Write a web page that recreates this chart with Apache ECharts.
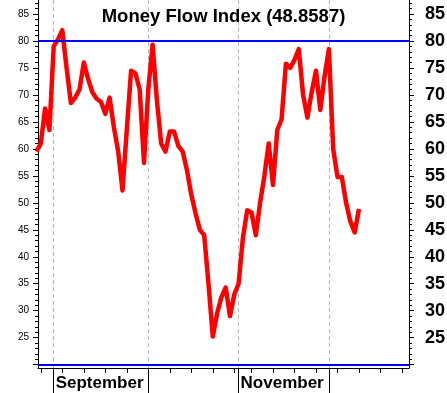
<!DOCTYPE html>
<html>
<head>
<meta charset="utf-8">
<script src="https://cdn.jsdelivr.net/npm/echarts@6/dist/echarts.min.js"></script>
<style>
html,body{margin:0;padding:0;background:#fff;}
#chart{width:447px;height:393px;}
</style>
</head>
<body>
<div id="chart"></div>
<script>
// Money Flow Index, one value per trading day (index 0 = first day shown)
const mfiValues = [
  59.5, 61, 67.5, 63.5, 79, 80.3, 82, 75, 68.5, 69.5,
  71, 76, 73, 70.5, 69.3, 68.7, 66.5, 69.5, 64, 59.5,
  52.3, 63.5, 74.5, 74, 71, 57.4, 71, 79.3, 69, 61,
  59.5, 63.2, 63.2, 60.5, 59.5, 56, 51.5, 48, 45, 44,
  35, 25.2, 29.5, 32.5, 34.3, 29, 33, 35, 43.5, 48.6,
  48.2, 44, 50, 55, 61, 53.3, 63.5, 65.5, 75.8, 75,
  76.5, 78.5, 70, 65.8, 70.5, 74.5, 67.2, 73.5, 78.5, 60,
  54.8, 54.8, 50, 46.5, 44.5, 48.8587
];
const lastValue = 48.8587;
// trading-day indices of week starts and month starts
const weekTicks = [1, 6, 11, 16, 21, 26, 31, 36, 41, 46, 50, 55, 60, 65, 70, 75, 80, 85];
const monthStarts = [4, 26, 47, 68];
const monthLabels = ['September', '', 'November', ''];
// y axis ticks / labels
const yLabelValues = [25, 30, 35, 40, 45, 50, 55, 60, 65, 70, 75, 80, 85];
const yMajorTicks = [20, 25, 30, 35, 40, 45, 50, 55, 60, 65, 70, 75, 80, 85];
const yMinorTicks = [];
for (let v = 20; v <= 87; v++) yMinorTicks.push(v);
const levels = [80, 20];

const xMin = 0.35, xMax = 86.63;
const yMin = 19.38, yMax = 87.6;

const seriesData = mfiValues.map((v, i) => [i, v]);
const FONT = 'Liberation Sans, Arial, Helvetica, sans-serif';

const chart = echarts.init(document.getElementById('chart'), null, {renderer: 'canvas'});
chart.setOption({
  animation: false,
  backgroundColor: '#ffffff',
  title: {
    text: 'Money Flow Index (' + lastValue + ')',
    left: 'center',
    top: 2,
    textStyle: {fontSize: 18.5, fontWeight: 'bold', color: '#000', fontFamily: FONT}
  },
  grid: {left: 38, right: 38, top: 0, bottom: 25, containLabel: false, outerBoundsMode: 'none'},
  xAxis: [
    {
      type: 'value', position: 'bottom', min: xMin, max: xMax,
      axisLine: {show: true, onZero: false, lineStyle: {color: '#000', width: 1}},
      axisTick: {show: true, customValues: weekTicks, length: 5, lineStyle: {color: '#000', width: 1}},
      axisLabel: {show: false},
      splitLine: {show: false}
    },
    {
      type: 'value', position: 'bottom', min: xMin, max: xMax,
      axisLine: {show: false, onZero: false},
      axisTick: {show: true, customValues: monthStarts, length: 25, lineStyle: {color: '#000', width: 1}},
      axisLabel: {
        show: true, customValues: monthStarts,
        formatter: (v) => monthLabels[monthStarts.indexOf(v)] || '',
        align: 'left', margin: 7, padding: [0, 0, 0, 2],
        fontSize: 17, fontWeight: 'bold', color: '#000', fontFamily: FONT
      },
      splitLine: {show: true, lineStyle: {color: '#b8b8b8', type: [4, 3], width: 1}}
    }
  ],
  yAxis: [
    {
      type: 'value', position: 'left', min: yMin, max: yMax,
      axisLine: {show: true, onZero: false, lineStyle: {color: '#000', width: 1}},
      axisTick: {show: true, customValues: yMajorTicks, length: 5, lineStyle: {color: '#000'}},
      axisLabel: {show: true, customValues: yLabelValues, margin: 9, fontSize: 10, color: '#000', fontFamily: FONT},
      splitLine: {show: false}
    },
    {
      type: 'value', position: 'left', min: yMin, max: yMax,
      axisLine: {show: false, onZero: false},
      axisTick: {show: true, customValues: yMinorTicks, length: 3, lineStyle: {color: '#000'}},
      axisLabel: {show: false},
      splitLine: {show: false}
    },
    {
      type: 'value', position: 'right', min: yMin, max: yMax,
      axisLine: {show: true, onZero: false, lineStyle: {color: '#000', width: 1}},
      axisTick: {show: true, customValues: yMajorTicks, length: 5, lineStyle: {color: '#000'}},
      axisLabel: {show: true, customValues: yLabelValues, margin: 16, fontSize: 18, fontWeight: 'bold', color: '#000', fontFamily: FONT},
      splitLine: {show: false}
    },
    {
      type: 'value', position: 'right', min: yMin, max: yMax,
      axisLine: {show: false, onZero: false},
      axisTick: {show: true, customValues: yMinorTicks, length: 3, lineStyle: {color: '#000'}},
      axisLabel: {show: false},
      splitLine: {show: false}
    }
  ],
  series: [
    {
      type: 'line', xAxisIndex: 0, yAxisIndex: 0,
      data: seriesData,
      symbol: 'none', showSymbol: false,
      clip: true,
      lineStyle: {color: '#ff0000', width: 4.5, join: 'round'},
      z: 3,
      markLine: {
        silent: true, symbol: 'none',
        label: {show: false},
        lineStyle: {color: '#0000ff', width: 2, type: 'solid'},
        data: levels.map(v => ({yAxis: v}))
      }
    }
  ]
});
</script>
</body>
</html>
